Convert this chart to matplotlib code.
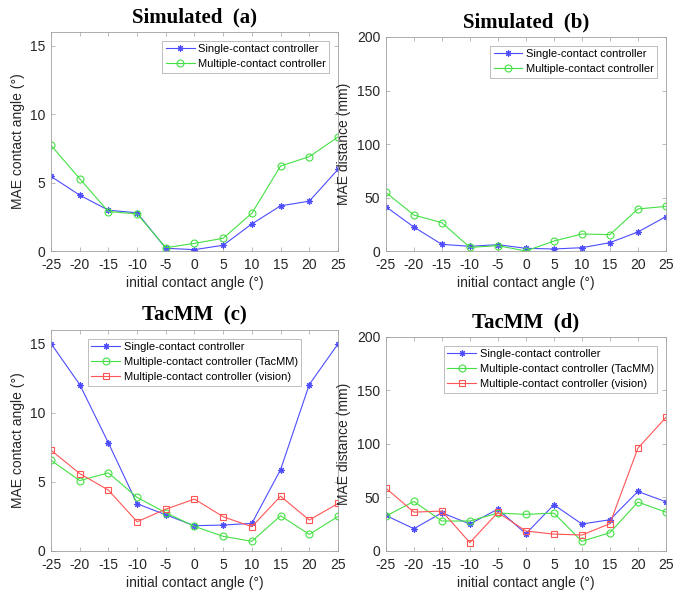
import matplotlib
matplotlib.use("Agg")
import matplotlib.pyplot as plt

plt.rcParams["font.family"] = ["Liberation Sans", "DejaVu Sans"]

angles = [-25, -20, -15, -10, -5, 0, 5, 10, 15, 20, 25]

# (a) simulated, MAE contact angle
sim_angle_single = [5.45, 4.08, 2.98, 2.79, 0.20, 0.10, 0.42, 1.98, 3.30, 3.64, 5.96]
sim_angle_multi = [7.72, 5.28, 2.88, 2.71, 0.24, 0.56, 0.93, 2.76, 6.21, 6.89, 8.33]

# (b) simulated, MAE distance
sim_dist_single = [41.4, 22.4, 6.2, 4.4, 5.9, 2.5, 1.9, 3.1, 7.8, 17.8, 32.1]
sim_dist_multi = [54.8, 33.6, 26.5, 3.4, 5.0, 0.0, 9.3, 15.9, 15.3, 39.3, 41.7]

# (c) TacMM, MAE contact angle
tac_angle_single = [15.03, 12.06, 7.83, 3.42, 2.62, 1.83, 1.88, 2.00, 5.90, 12.06, 15.00]
tac_angle_tacmm = [6.57, 5.10, 5.66, 3.88, 2.77, 1.78, 1.06, 0.70, 2.55, 1.20, 2.50]
tac_angle_vision = [7.30, 5.61, 4.41, 2.12, 3.03, 3.76, 2.48, 1.76, 3.97, 2.24, 3.44]

# (d) TacMM, MAE distance
tac_dist_single = [33.2, 20.8, 35.7, 25.2, 39.1, 16.1, 43.2, 25.2, 29.2, 55.6, 46.0]
tac_dist_tacmm = [32.6, 46.3, 28.0, 28.0, 35.4, 34.2, 35.4, 9.0, 17.1, 45.7, 36.3]
tac_dist_vision = [58.7, 36.3, 37.3, 7.8, 36.0, 18.6, 15.8, 14.9, 25.5, 96.0, 124.8]

BLUE, GREEN, RED = "#4d4dff", "#44e044", "#ff5555"
LAB_SINGLE = "Single-contact controller"
LAB_MULTI = "Multiple-contact controller"
ASTERISK = (8, 2, 0)  # MATLAB-style '*' marker

fig = plt.figure(figsize=(6.94, 5.92), dpi=100)
axa = fig.add_axes([0.0735, 0.576, 0.4135, 0.370])
axb = fig.add_axes([0.556, 0.576, 0.4035, 0.3615])
axc = fig.add_axes([0.0735, 0.0693, 0.4135, 0.373])
axd = fig.add_axes([0.556, 0.0693, 0.4035, 0.3615])


def line(ax, y, color, marker, label):
    star = marker == ASTERISK
    ax.plot(angles, y, color=color, lw=0.8, marker=marker, ms=4.5 if star else 5,
            mfc=color if star else "none", mec=color, mew=0.8, label=label)


def style(ax, title, ylabel, ylim, yticks):
    ax.set_xlim(-25, 25)
    ax.set_ylim(*ylim)
    ax.set_xticks(angles)
    ax.set_xticklabels([str(a) for a in angles])
    ax.set_yticks(yticks)
    ax.tick_params(direction="in", length=3, width=0.5, labelsize=10, colors="#a0a0a0",
                   labelcolor="#262626", top=True, right=True)
    ax.tick_params(axis="x", pad=5)
    ax.tick_params(axis="y", pad=4)
    for s in ax.spines.values():
        s.set_color("#a0a0a0")
        s.set_linewidth(0.6)
    ax.set_xlabel("initial contact angle (°)", fontsize=10, color="#262626", labelpad=3)
    ax.set_ylabel(ylabel, fontsize=10, color="#262626", labelpad=4)
    ax.set_title(title, fontsize=15, fontweight="bold", family="Liberation Serif", pad=7)


line(axa, sim_angle_single, BLUE, ASTERISK, LAB_SINGLE)
line(axa, sim_angle_multi, GREEN, "o", LAB_MULTI)
style(axa, "Simulated  (a)", "MAE contact angle (°)", (0, 16), [0, 5, 10, 15])

line(axb, sim_dist_single, BLUE, ASTERISK, LAB_SINGLE)
line(axb, sim_dist_multi, GREEN, "o", LAB_MULTI)
style(axb, "Simulated  (b)", "MAE distance (mm)", (0, 200), [0, 50, 100, 150, 200])

line(axc, tac_angle_single, BLUE, ASTERISK, LAB_SINGLE)
line(axc, tac_angle_tacmm, GREEN, "o", LAB_MULTI + " (TacMM)")
line(axc, tac_angle_vision, RED, "s", LAB_MULTI + " (vision)")
style(axc, "TacMM  (c)", "MAE contact angle (°)", (0, 16), [0, 5, 10, 15])

line(axd, tac_dist_single, BLUE, ASTERISK, LAB_SINGLE)
line(axd, tac_dist_tacmm, GREEN, "o", LAB_MULTI + " (TacMM)")
line(axd, tac_dist_vision, RED, "s", LAB_MULTI + " (vision)")
style(axd, "TacMM  (d)", "MAE distance (mm)", (0, 200), [0, 50, 100, 150, 200])

for ax, loc in ((axa, "upper right"), (axb, "upper right"), (axc, "upper center"), (axd, "upper right")):
    leg = ax.legend(loc=loc, fontsize=8, frameon=True, fancybox=False, borderpad=0.3,
                    handlelength=2.6, handletextpad=0.3, labelspacing=0.45,
                    borderaxespad=0.8)
    leg.get_frame().set_edgecolor("#a0a0a0")
    leg.get_frame().set_linewidth(0.6)

fig.savefig("out.png", dpi=100)
